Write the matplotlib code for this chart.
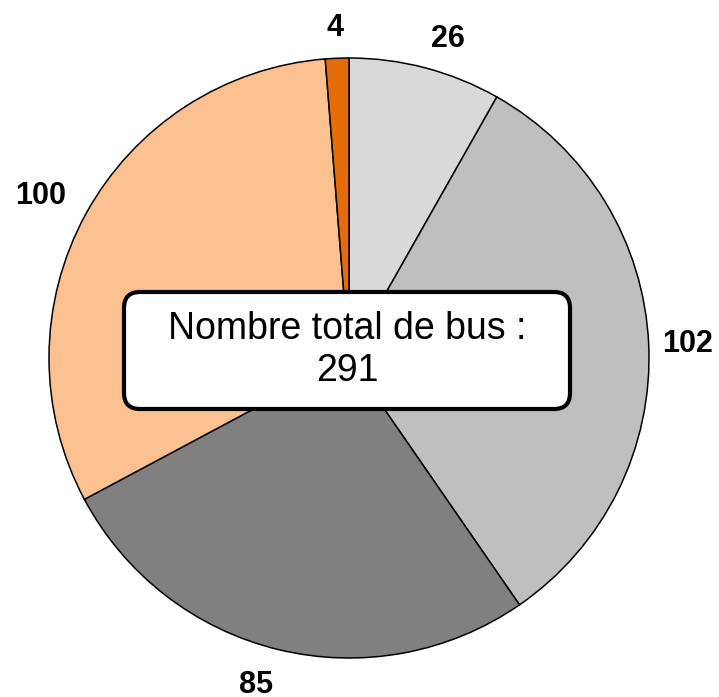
import numpy as np
import matplotlib.pyplot as plt
from matplotlib.patches import FancyBboxPatch

plt.rcParams['font.family'] = ['Liberation Sans', 'DejaVu Sans']

# Donnees du graphique
valeurs = [26, 102, 85, 100, 4]
etiquettes = ['26', '102', '85', '100', '4']
couleurs = ['#d9d9d9', '#bfbfbf', '#808080', '#fac090', '#e46c0a']
texte_total = 'Nombre total de bus :\n291'

W, H = 719, 697
fig = plt.figure(figsize=(W/100, H/100), dpi=100)
ax = fig.add_axes([0, 0, 1, 1])

centre = (349, H-358)
rayon = 300

wedges, _ = ax.pie(
    valeurs,
    colors=couleurs,
    startangle=90,
    counterclock=False,
    center=centre,
    radius=rayon,
    wedgeprops=dict(edgecolor='black', linewidth=1.1),
)
ax.set_xlim(0, W)
ax.set_ylim(0, H)
ax.set_aspect('equal')
ax.axis('off')

#Etiquettes a l'exterieur (coin le plus proche du centre sur un cercle)
taille = 22
hauteur = 0.716*taille*100/72
renderer = fig.canvas.get_renderer()
for w, lab in zip(wedges, etiquettes):
    ang = np.deg2rad((w.theta1+w.theta2)/2)
    dx, dy = np.cos(ang), np.sin(ang)
    t = ax.text(0, 0, lab, fontsize=taille, fontweight='bold', ha='center', va='baseline')
    larg = t.get_window_extent(renderer).width
    px = centre[0]+rayon*1.073*dx+larg/2*np.clip(dx/0.2, -1, 1)
    py = centre[1]+rayon*1.073*dy+hauteur/2*np.clip(dy/0.2, -1, 1)
    px = min(px, W-6-larg/2)
    px = max(px, 6+larg/2)
    t.set_position((px, py-hauteur/2))

#Encadre central
boite = FancyBboxPatch(
    (124, H-409), 446, 117,
    boxstyle='round,pad=0,rounding_size=16',
    facecolor='white', edgecolor='black', linewidth=3, zorder=5
)
ax.add_patch(boite)
ax.text(347, H-350, texte_total, fontsize=27, ha='center', va='center',
        linespacing=1.2, zorder=6)

fig.savefig('out.png', dpi=100)
